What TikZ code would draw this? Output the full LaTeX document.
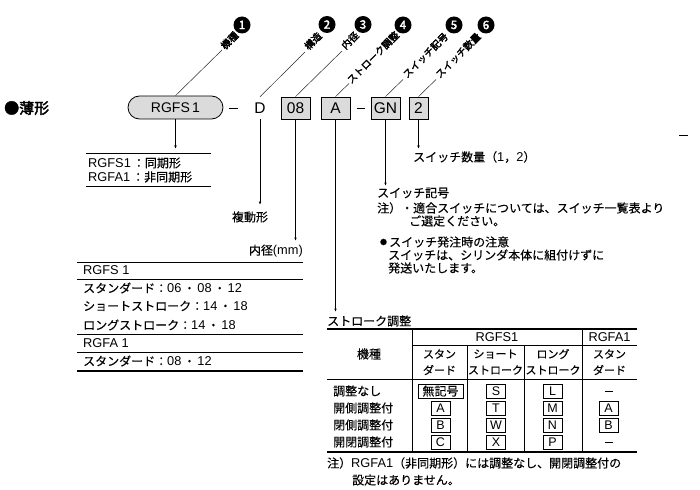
\documentclass[tikz,border=0pt]{standalone}
\usepackage{fontspec}
\setmainfont{Noto Sans CJK JP}[UprightFeatures={FakeBold=0.2}]
\newfontfamily\jpbold[UprightFeatures={FakeBold=2.5}]{Noto Sans CJK JP}
\newfontfamily\latf{Liberation Sans}
\newcommand\latn[1]{{\latf\fontsize{12.8}{14}\selectfont #1}}
\usetikzlibrary{arrows.meta}
\definecolor{boxgray}{gray}{0.86}
\begin{document}
\begin{tikzpicture}[x=1pt,y=-1pt,
  txt/.style={inner sep=0pt, font=\fontsize{12}{14}\selectfont},
  ltxt/.style={txt, anchor=west},
  codebox/.style={draw, line width=0.8pt, fill=boxgray, minimum height=22pt, inner sep=0pt, font=\latf\fontsize{15.5}{16}\selectfont},
  lead/.style={line width=0.5pt, black!85},
  arr/.style={line width=0.8pt, -{Latex[length=3.5pt,width=2.6pt]}},
  num/.style={circle, fill=black, text=white, inner sep=0pt, minimum size=17pt, font=\jpbold\fontsize{11.5}{12}\selectfont},
  tag/.style={rotate=45, inner sep=0pt, font=\jpbold\fontsize{9.8}{10}\selectfont},
  tcode/.style={draw, line width=0.7pt, minimum width=19pt, minimum height=14pt, inner sep=0pt, font=\latf\fontsize{12.5}{13}\selectfont},
  thinrule/.style={line width=0.6pt},
  boldrule/.style={line width=1.1pt},
  hdr/.style={txt, font=\fontsize{11}{13}\selectfont},
]
\useasboundingbox (0,0) rectangle (700,489);

% title
\node[anchor=west, inner sep=0pt, font=\jpbold\fontsize{15}{16}\selectfont] (title) at (4,108) {●薄形};

% main code row
\node[draw, line width=0.8pt, fill=boxgray, rounded corners=11.5pt, minimum width=95pt, minimum height=23pt, inner sep=0pt, font=\latf\fontsize{14}{16}\selectfont] (m1) at (175.5,107.5) {RGFS\,1};
\node[inner sep=0pt, minimum height=22pt, font=\latf\fontsize{15.5}{16}\selectfont] (m2) at (260,108) {D};
\node[codebox, minimum width=29pt] (m3) at (295.5,108) {08};
\node[codebox, minimum width=29pt] (m4) at (335.5,108) {A};
\node[codebox, minimum width=29pt] (m5) at (385.5,108) {GN};
\node[codebox, minimum width=19pt] (m6) at (418.5,108) {2};
\draw[line width=0.8pt] (229,108) -- (238,108);
\draw[line width=0.8pt] (357,108) -- (365,108);
\draw[line width=0.8pt] (679,135) -- (688,135);

% leaders with tags and numbers
\coordinate (e1) at (222,50);
\coordinate (e2) at (305,52);
\coordinate (e3) at (342,51);
\coordinate (e4) at (349,83.5);
\coordinate (e5) at (403,79.5);
\coordinate (e6) at (436,79.5);
\draw[lead] (m1.north) -- (e1);
\draw[lead] (m2.north) -- (e2);
\draw[lead] (m3.north) -- (e3);
\draw[lead] (m4.north) -- (e4);
\draw[lead] (m5.north) -- (e5);
\draw[lead] (m6.north) -- (e6);
\node[tag] (t1) at (229.5,40.5) {機種};
\node[tag] (t2) at (313,41) {構造};
\node[tag] (t3) at (350,40.5) {内径};
\node[tag] (t4) at (373,57.5) {ストローク調整};
\node[tag] (t5) at (425.5,55.5) {スイッチ記号};
\node[tag] (t6) at (458,55.5) {スイッチ数量};
\node[num] (n1) at (242,25) {1};
\node[num] (n2) at (327,24.5) {2};
\node[num] (n3) at (363,24.5) {3};
\node[num] (n4) at (403,25) {4};
\node[num] (n5) at (454,25) {5};
\node[num] (n6) at (486,25) {6};

% vertical arrows
\coordinate (a1) at (175.5,149);
\coordinate (a2) at (260,205);
\coordinate (a3) at (295.5,241);
\coordinate (a4) at (335.5,312);
\coordinate (a5) at (385.5,186);
\coordinate (a6) at (418.5,149);
\draw[arr] (m1.south) -- (a1);
\draw[arr] (m2.south) -- (a2);
\draw[arr] (m3.south) -- (a3);
\draw[arr] (m4.south) -- (a4);
\draw[arr] (m5.south) -- (a5);
\draw[arr] (m6.south) -- (a6);

% 1: type
\draw[thinrule] (86,153) -- (211,153);
\draw[thinrule] (86,186) -- (211,186);
\node[ltxt] (k1) at (88,163) {\latn{RGFS1}\hspace{2pt}：同期形};
\node[ltxt] (k2) at (88,177) {\latn{RGFA1}\hspace{2pt}：非同期形};

% 2: structure
\node[txt] (s1) at (250,217) {複動形};

% 3: bore
\node[txt, anchor=east] (b0) at (303,251) {内径\latn{(mm)}};
\draw[line width=0.8pt] (77,262) -- (303,262);
\draw[thinrule] (77,279) -- (303,279);
\draw[thinrule] (77,334) -- (303,334);
\draw[thinrule] (77,352) -- (303,352);
\draw[boldrule] (77,371) -- (303,371);
\node[ltxt] (b1) at (83,270) {\latn{RGFS 1}};
\node[ltxt] (b2) at (83,288) {スタンダード：\latn{06}\,・\,\latn{08}\,・\,\latn{12}};
\node[ltxt] (b3) at (83,306) {ショートストローク：\latn{14}\,・\,\latn{18}};
\node[ltxt] (b4) at (83,325) {ロングストローク：\latn{14}\,・\,\latn{18}};
\node[ltxt] (b5) at (83,343) {\latn{RGFA 1}};
\node[ltxt] (b6) at (83,361) {スタンダード：\latn{08}\,・\,\latn{12}};

% 6: switch quantity
\node[ltxt] (q1) at (413,157) {スイッチ数量（\latn{1}，\latn{2}）};

% 5: switch
\node[ltxt] (w1) at (377,193) {スイッチ記号};
\node[ltxt] (w2) at (377,208) {注）・適合スイッチについては、スイッチ一覧表より};
\node[ltxt] (w3) at (409,221) {ご選定ください。};
\node[inner sep=0pt, font=\fontsize{7}{8}\selectfont] (w4) at (383.5,242) {●};
\node[ltxt] (w5) at (389,242) {スイッチ発注時の注意};
\node[ltxt] (w6) at (388,255) {スイッチは、シリンダ本体に組付けずに};
\node[ltxt] (w7) at (388,268) {発送いたします。};

% 4: stroke adjustment table
\node[ltxt] (st) at (327,321) {ストローク調整};
\draw[boldrule] (327,329) -- (637,329);
\draw[thinrule] (412,345) -- (637,345);
\draw[thinrule] (327,379) -- (637,379);
\draw[boldrule] (327,452) -- (637,452);
\draw[thinrule] (412,329) -- (412,452);
\draw[thinrule] (582,329) -- (582,452);
\draw[thinrule] (467,345) -- (467,452);
\draw[thinrule] (524,345) -- (524,452);

\node[txt] (h0) at (369,354) {機種};
\node[txt] (h1) at (497,337) {\latn{RGFS1}};
\node[txt] (h2) at (609.5,337) {\latn{RGFA1}};
\node[hdr] (h3) at (439.5,354) {スタン};
\node[hdr] (h4) at (439.5,370) {ダード};
\node[hdr] (h5) at (495.5,354) {ショート};
\node[hdr] (h6) at (495.5,370) {ストローク};
\node[hdr] (h7) at (553,354) {ロング};
\node[hdr] (h8) at (553,370) {ストローク};
\node[hdr] (h9) at (609.5,354) {スタン};
\node[hdr] (h10) at (609.5,370) {ダード};

\node[ltxt] (r1) at (333,391) {調整なし};
\node[ltxt] (r2) at (333,408) {開側調整付};
\node[ltxt] (r3) at (333,425) {閉側調整付};
\node[ltxt] (r4) at (333,442) {開閉調整付};

\node[tcode, minimum width=45pt, font=\fontsize{12}{13}\selectfont] (c11) at (440.5,391) {無記号};
\node[tcode] (c12) at (440.5,408) {A};
\node[tcode] (c13) at (440.5,425) {B};
\node[tcode] (c14) at (440.5,442) {C};
\node[tcode] (c21) at (496,391) {S};
\node[tcode] (c22) at (496,408) {T};
\node[tcode] (c23) at (496,425) {W};
\node[tcode] (c24) at (496,442) {X};
\node[tcode] (c31) at (552.5,391) {L};
\node[tcode] (c32) at (552.5,408) {M};
\node[tcode] (c33) at (552.5,425) {N};
\node[tcode] (c34) at (552.5,442) {P};
\node[tcode] (c42) at (608.5,408) {A};
\node[tcode] (c43) at (608.5,425) {B};
\draw[line width=0.8pt] (605,391) -- (613,391);
\draw[line width=0.8pt] (605,442) -- (613,442);

\node[ltxt] (nt1) at (327,463) {注）\latn{RGFA1}（非同期形）には調整なし、開閉調整付の};
\node[ltxt] (nt2) at (352,480) {設定はありません。};
\end{tikzpicture}
\end{document}
